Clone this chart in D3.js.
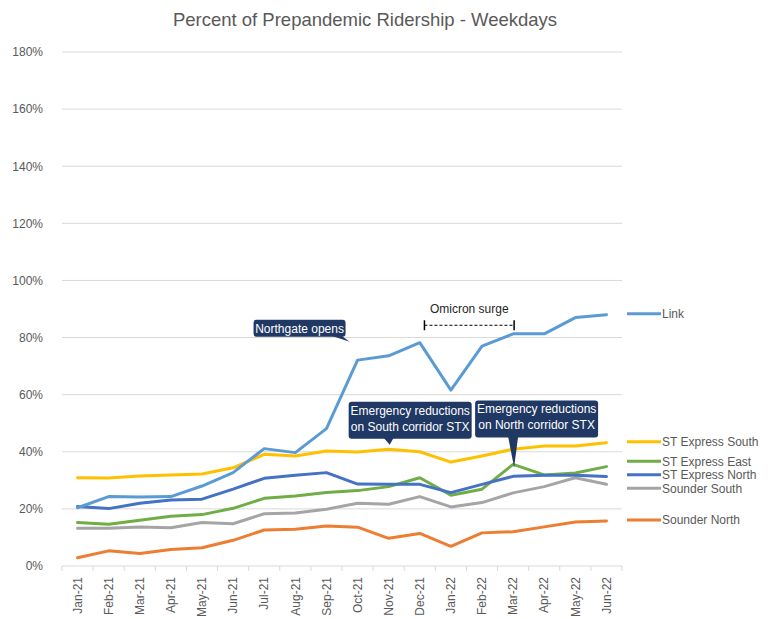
<!DOCTYPE html>
<html>
<head>
<meta charset="utf-8">
<script src="https://cdn.jsdelivr.net/npm/d3@7/dist/d3.min.js"></script>
<style>
  body { margin: 0; background: #fff; }
  text { font-family: "Liberation Sans Narrow", "Arial Narrow", "Liberation Sans", Arial, sans-serif; }
</style>
</head>
<body>
<svg id="chart" width="770" height="619"></svg>
<script>
    // months on the x axis
    var months = ["Jan-21", "Feb-21", "Mar-21", "Apr-21", "May-21", "Jun-21", "Jul-21", "Aug-21", "Sep-21",
        "Oct-21", "Nov-21", "Dec-21", "Jan-22", "Feb-22", "Mar-22", "Apr-22", "May-22", "Jun-22"];

    var yTicks = [0, 0.2, 0.4, 0.6, 0.8, 1.0, 1.2, 1.4, 1.6, 1.8];

    // percent of prepandemic weekday ridership
    var link = [20.4, 24.3, 24.2, 24.3, 28.0, 32.7, 41.1, 39.7, 48.1, 72.1, 73.6, 78.2, 61.6, 77.0, 81.3, 81.3, 87.0, 88.0];
    var stxSouth = [30.9, 30.8, 31.5, 31.9, 32.2, 34.4, 39.1, 38.5, 40.3, 39.9, 40.9, 40.0, 36.4, 38.5, 40.9, 42.0, 42.0, 43.2];
    var stxEast = [15.2, 14.6, 16.0, 17.4, 18.0, 20.2, 23.7, 24.5, 25.7, 26.4, 27.8, 30.9, 24.8, 26.9, 35.6, 31.9, 32.6, 34.8];
    var stxNorth = [20.8, 20.1, 22.0, 23.1, 23.4, 26.9, 30.7, 31.8, 32.7, 28.7, 28.6, 28.6, 25.7, 28.6, 31.4, 31.8, 31.8, 31.3];
    var sounderSouth = [13.2, 13.2, 13.7, 13.4, 15.2, 14.8, 18.3, 18.6, 19.9, 22.0, 21.6, 24.3, 20.7, 22.2, 25.6, 27.8, 30.9, 28.6];
    var sounderNorth = [2.9, 5.3, 4.4, 5.8, 6.4, 9.0, 12.6, 12.9, 14.0, 13.6, 9.7, 11.4, 6.9, 11.6, 12.0, 13.7, 15.4, 15.8];

    var seriesNames = ["Link", "ST Express South", "ST Express East", "ST Express North", "Sounder South", "Sounder North"];
    var seriesValues = [link, stxSouth, stxEast, stxNorth, sounderSouth, sounderNorth];
    var seriesColors = ["#5B9BD5", "#FFC000", "#70AD47", "#4472C4", "#A5A5A5", "#ED7D31"];
    // drawing order (back to front)
    var drawOrder = [4, 5, 2, 3, 1, 0];

    // callouts: text lines, month/value the pointer aims at
    var callouts = [
        {lines: ["Northgate opens"], month: "Oct-21", value: 78.5, dx: -8, box: [-96, -22, 92, 17]},
        {lines: ["Emergency reductions", "on South corridor STX"], month: "Nov-21", value: 42.5, dx: 1, box: [-41, -43, 123, 37]},
        {lines: ["Emergency reductions", "on North corridor STX"], month: "Mar-22", value: 34.5, dx: 1, box: [-39, -67, 123, 37]}
    ];
    var omicron = {label: "Omicron surge", from: "Dec-21", to: "Mar-22", value: 84.3};

    var svg = d3.select("#chart"),
        plotLeft = 62, plotRight = 622, plotTop = 52, plotBottom = 566;

    var x = d3.scaleBand().domain(months).range([plotLeft, plotRight]);
    var y = d3.scaleLinear().domain([0, 1.8]).range([plotBottom, plotTop]);

    function cx(m) {
        return x(m) + x.bandwidth() / 2;
    }

    // title
    svg.append("text")
        .attr("x", 365).attr("y", 26)
        .attr("text-anchor", "middle")
        .style("font-size", "18.5px")
        .style("fill", "#595959")
        .text("Percent of Prepandemic Ridership - Weekdays");

    // gridlines
    svg.append("g").selectAll("line")
        .data(yTicks.filter(function (d) { return d > 0; }))
        .enter().append("line")
        .attr("x1", plotLeft).attr("x2", plotRight)
        .attr("y1", function (d) { return y(d); })
        .attr("y2", function (d) { return y(d); })
        .attr("stroke", "#D9D9D9").attr("stroke-width", 1);

    // y axis labels
    var yAxis = d3.axisLeft(y).tickValues(yTicks).tickSize(0).tickPadding(19)
        .tickFormat(d3.format(".0%"));
    var yg = svg.append("g").attr("transform", "translate(" + plotLeft + ",0)").call(yAxis);
    yg.select(".domain").remove();
    yg.selectAll("text").style("font-size", "12px").style("fill", "#595959")
        .style("font-family", "'Liberation Sans Narrow', 'Arial Narrow', 'Liberation Sans', sans-serif");

    // x axis with ticks at band edges
    var xg = svg.append("g").attr("transform", "translate(0," + plotBottom + ")");
    xg.append("line").attr("x1", plotLeft).attr("x2", plotRight).attr("stroke", "#D9D9D9");
    xg.selectAll(".tk")
        .data(months.concat(["end"]))
        .enter().append("line")
        .attr("class", "tk")
        .attr("x1", function (d, i) { return plotLeft + i * x.step(); })
        .attr("x2", function (d, i) { return plotLeft + i * x.step(); })
        .attr("y1", 0).attr("y2", 5)
        .attr("stroke", "#D9D9D9");
    xg.selectAll(".lbl")
        .data(months)
        .enter().append("text")
        .attr("class", "lbl")
        .attr("transform", function (d) { return "translate(" + cx(d) + ",11) rotate(-90)"; })
        .attr("text-anchor", "end")
        .attr("dy", "0.35em")
        .style("font-size", "12px")
        .style("fill", "#595959")
        .text(function (d) { return d; });

    // lines
    var line = d3.line()
        .x(function (d, i) { return cx(months[i]); })
        .y(function (d) { return y(d / 100); });

    svg.append("g").selectAll("path")
        .data(drawOrder)
        .enter().append("path")
        .attr("d", function (k) { return line(seriesValues[k]); })
        .attr("fill", "none")
        .attr("stroke", function (k) { return seriesColors[k]; })
        .attr("stroke-width", 3)
        .attr("stroke-linejoin", "round")
        .attr("stroke-linecap", "round");

    // legend labels next to last value, spread so they don't overlap
    var legendItems = seriesNames.map(function (n, i) {
        return {name: n, color: seriesColors[i], y: y(seriesValues[i][months.length - 1] / 100)};
    }).sort(function (a, b) { return a.y - b.y; });
    var gap = 13.5;
    for (var it = 0; it < 50; it++) {
        for (var j = 1; j < legendItems.length; j++) {
            var d = legendItems[j].y - legendItems[j - 1].y;
            if (d < gap) {
                var push = (gap - d) / 2;
                legendItems[j].y += push;
                legendItems[j - 1].y -= push;
            }
        }
    }
    var lg = svg.append("g").selectAll("g")
        .data(legendItems)
        .enter().append("g")
        .attr("transform", function (d) { return "translate(627," + (d.y - 1) + ")"; });
    lg.append("line").attr("x1", 0).attr("x2", 34)
        .attr("stroke", function (d) { return d.color; })
        .attr("stroke-width", 3);
    lg.append("text").attr("x", 35).attr("dy", "0.35em")
        .style("font-size", "12px").style("fill", "#595959")
        .text(function (d) { return d.name; });

    // callouts
    var cg = svg.append("g").selectAll("g")
        .data(callouts)
        .enter().append("g")
        .attr("transform", function (d) {
            return "translate(" + (cx(d.month) + d.dx) + "," + y(d.value / 100) + ")";
        });
    cg.append("path")
        .attr("d", function (d) {
            var b = d.box, bx = b[0], by = b[1], bw = b[2], bh = b[3];
            var base = Math.min(Math.max(-6, bx + 4), bx + bw - 14);
            return "M0,0L" + base + "," + (by + bh - 1) + "L" + (base + 10) + "," + (by + bh - 1) + "Z";
        })
        .attr("fill", "#203864");
    cg.append("rect")
        .attr("x", function (d) { return d.box[0]; })
        .attr("y", function (d) { return d.box[1]; })
        .attr("width", function (d) { return d.box[2]; })
        .attr("height", function (d) { return d.box[3]; })
        .attr("rx", 3)
        .attr("fill", "#203864");
    cg.each(function (d) {
        var g = d3.select(this);
        d.lines.forEach(function (t, i) {
            g.append("text")
                .attr("x", d.box[0] + d.box[2] / 2)
                .attr("y", d.box[1] + 13 + i * 16)
                .attr("text-anchor", "middle")
                .style("font-size", "12px")
                .style("fill", "#fff")
                .text(t);
        });
    });

    // omicron surge bracket
    var oy = y(omicron.value / 100),
        ox1 = x(omicron.from) + x.bandwidth() * 0.65,
        ox2 = cx(omicron.to) + 1;
    var og = svg.append("g");
    og.append("line").attr("x1", ox1).attr("x2", ox2).attr("y1", oy).attr("y2", oy)
        .attr("stroke", "#000").attr("stroke-width", 1).attr("stroke-dasharray", "3,2");
    [ox1, ox2].forEach(function (xx) {
        og.append("line").attr("x1", xx).attr("x2", xx).attr("y1", oy - 5).attr("y2", oy + 5)
            .attr("stroke", "#000").attr("stroke-width", 1.5);
    });
    og.append("text").attr("x", (ox1 + ox2) / 2).attr("y", oy - 12)
        .attr("text-anchor", "middle")
        .style("font-size", "12px").style("fill", "#262626")
        .text(omicron.label);
</script>
</body>
</html>
